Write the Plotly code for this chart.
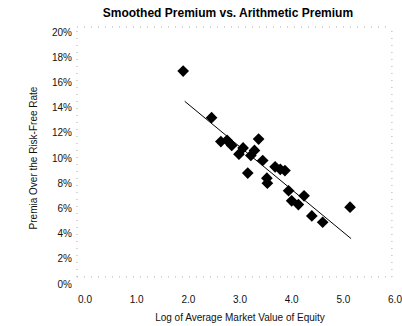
import plotly.graph_objects as go

# Data
log_mv = [1.90, 2.45, 2.63, 2.75, 2.84, 2.98, 3.06, 3.15, 3.21, 3.28, 3.36, 3.44,
          3.52, 3.53, 3.68, 3.78, 3.87, 3.94, 4.00, 4.13, 4.24, 4.39, 4.60, 5.13]
premium = [0.169, 0.132, 0.113, 0.114, 0.110, 0.103, 0.108, 0.088, 0.102, 0.106, 0.115, 0.098,
           0.084, 0.080, 0.093, 0.091, 0.090, 0.074, 0.066, 0.063, 0.070, 0.054, 0.049, 0.061]
trend_x = [1.93, 5.15]
trend_y = [0.145, 0.036]

x_ticks = [0, 1, 2, 3, 4, 5, 6]
x_tick_labels = ["0.0", "1.0", "2.0", "3.0", "4.0", "5.0", "6.0"]

font_family = "Liberation Sans, Arial, sans-serif"

fig = go.Figure()
fig.add_trace(go.Scatter(x=trend_x, y=trend_y, mode="lines",
                         line=dict(color="black", width=1), showlegend=False))
fig.add_trace(go.Scatter(x=log_mv, y=premium, mode="markers",
                         marker=dict(symbol="diamond", color="black", size=9),
                         showlegend=False))

border = dict(color="#aaa", width=1, dash="1px,6px")

fig.update_layout(
    width=402, height=326,
    margin=dict(l=85, r=7, t=32, b=42),
    paper_bgcolor="white", plot_bgcolor="white",
    font=dict(family=font_family, color="#111", size=10),
    title=dict(text="<b>Smoothed Premium vs. Arithmetic Premium</b>",
               x=0.567, xanchor="center", y=0.975, yanchor="top",
               font=dict(size=12, color="black")),
    xaxis=dict(range=[0, 6], tickvals=x_ticks, ticktext=x_tick_labels,
               showgrid=False, zeroline=False, showline=False, ticks="",
               tickfont=dict(size=10), ticklabelstandoff=8,
               ticklabeloverflow="allow", automargin=False,
               title=dict(text="Log of Average Market Value of Equity",
                          font=dict(size=10), standoff=9)),
    yaxis=dict(range=[0, 0.20], dtick=0.02, tickformat=".0%",
               showgrid=False, zeroline=False, showline=False, ticks="",
               tickfont=dict(size=10), ticklabelstandoff=12,
               title=dict(text="Premia Over the Risk-Free Rate",
                          font=dict(size=10), standoff=12)),
    shapes=[
        dict(type="line", xref="paper", yref="paper", x0=-0.026, x1=0.99, y0=1.02, y1=1.02,
             line=border),
        dict(type="line", xref="paper", yref="paper", x0=0.99, x1=0.99, y0=0.028, y1=1.02,
             line=border),
        dict(type="line", xref="paper", yref="paper", x0=-0.026, x1=0.99, y0=0.028, y1=0.028,
             line=border),
        dict(type="line", xref="paper", yref="paper", x0=-0.026, x1=-0.026, y0=0.028, y1=1.02,
             line=border),
    ],
)

fig.write_html("out.html")
